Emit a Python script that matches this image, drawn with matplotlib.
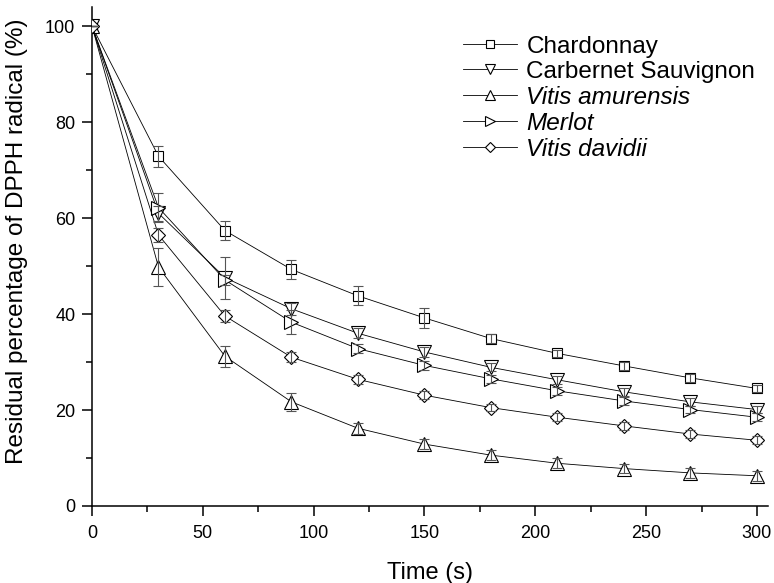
# DPPH radical scavenging curves for five grape varieties
import matplotlib
matplotlib.use("Agg")
import matplotlib.pyplot as plt
from matplotlib.ticker import MultipleLocator

plt.rcParams["font.family"] = ["Liberation Sans", "DejaVu Sans"]

# Data
time_s = [0, 30, 60, 90, 120, 150, 180, 210, 240, 270, 300]

chardonnay = [100, 72.9, 57.4, 49.3, 43.8, 39.2, 34.9, 31.8, 29.2, 26.7, 24.5]
chardonnay_err = [0, 2.2, 2.0, 1.9, 2.0, 2.1, 1.0, 0.8, 0.8, 0.8, 0.8]

cabernet = [100, 61.0, 47.6, 41.1, 36.0, 32.1, 28.9, 26.3, 23.8, 21.7, 20.1]
cabernet_err = [0, 1.5, 4.4, 1.2, 1.0, 1.0, 0.8, 0.8, 0.8, 0.8, 0.8]

amurensis = [100, 49.8, 31.2, 21.7, 16.2, 12.9, 10.6, 8.9, 7.8, 6.9, 6.3]
amurensis_err = [0, 3.9, 2.2, 1.8, 1.2, 1.0, 1.0, 1.0, 1.0, 1.0, 1.0]

merlot = [100, 62.2, 47.1, 38.3, 32.8, 29.3, 26.5, 24.0, 21.9, 20.1, 18.5]
merlot_err = [0, 3.0, 1.0, 2.5, 1.0, 1.0, 0.8, 0.8, 0.8, 0.8, 0.8]

davidii = [100, 56.5, 39.6, 31.0, 26.4, 23.1, 20.5, 18.5, 16.7, 15.0, 13.7]
davidii_err = [0, 1.5, 1.2, 1.0, 0.9, 0.8, 0.8, 0.8, 0.8, 0.8, 0.8]

# name, values, errors, marker, marker size, legend font style
series = [
    ("Chardonnay", chardonnay, chardonnay_err, "s", 7.2, "normal"),
    ("Carbernet Sauvignon", cabernet, cabernet_err, "v", 9.5, "normal"),
    ("Vitis amurensis", amurensis, amurensis_err, "^", 9.5, "italic"),
    ("Merlot", merlot, merlot_err, ">", 9.5, "italic"),
    ("Vitis davidii", davidii, davidii_err, "D", 7.0, "italic"),
]

fig = plt.figure(figsize=(7.74, 5.83), dpi=100)
ax = fig.add_axes([92 / 774, 1 - 506 / 583, 676 / 774, 499 / 583])

for name, vals, err, mk, ms, style in series:
    ax.plot(time_s, vals, color="black", lw=0.6, marker=mk, ms=ms,
            mfc="white", mec="black", mew=0.8, label=name, zorder=3)
    ax.errorbar(time_s, vals, yerr=err, fmt="none", ecolor="#555555",
                elinewidth=0.8, capsize=3.6, capthick=0.8, zorder=4)

ax.set_xlim(0, 305)
ax.set_ylim(0, 104)
ax.spines["top"].set_visible(False)
ax.spines["right"].set_visible(False)
for s in ("left", "bottom"):
    ax.spines[s].set_linewidth(1.1)

ax.xaxis.set_major_locator(MultipleLocator(50))
ax.xaxis.set_minor_locator(MultipleLocator(25))
ax.yaxis.set_major_locator(MultipleLocator(20))
ax.yaxis.set_minor_locator(MultipleLocator(10))
ax.tick_params(which="major", direction="out", length=7, width=1.1,
               labelsize=13, pad=5)
ax.tick_params(which="minor", direction="out", length=4, width=1.1)
ax.tick_params(axis="x", which="major", pad=7)

ax.set_xlabel("Time (s)", fontsize=17, labelpad=14)
ax.set_ylabel("Residual percentage of DPPH radical (%)", fontsize=17.5)
ax.yaxis.set_label_coords(-0.095, 0.53)

leg = ax.legend(loc="upper left", bbox_to_anchor=(0.549, 0.942), frameon=False,
                fontsize=17.5, handlelength=2.2, handletextpad=0.4,
                labelspacing=0.12, borderpad=0, borderaxespad=0, markerscale=0.8)
for txt, s in zip(leg.get_texts(), series):
    txt.set_style(s[5])

fig.savefig("out.png", dpi=100)
